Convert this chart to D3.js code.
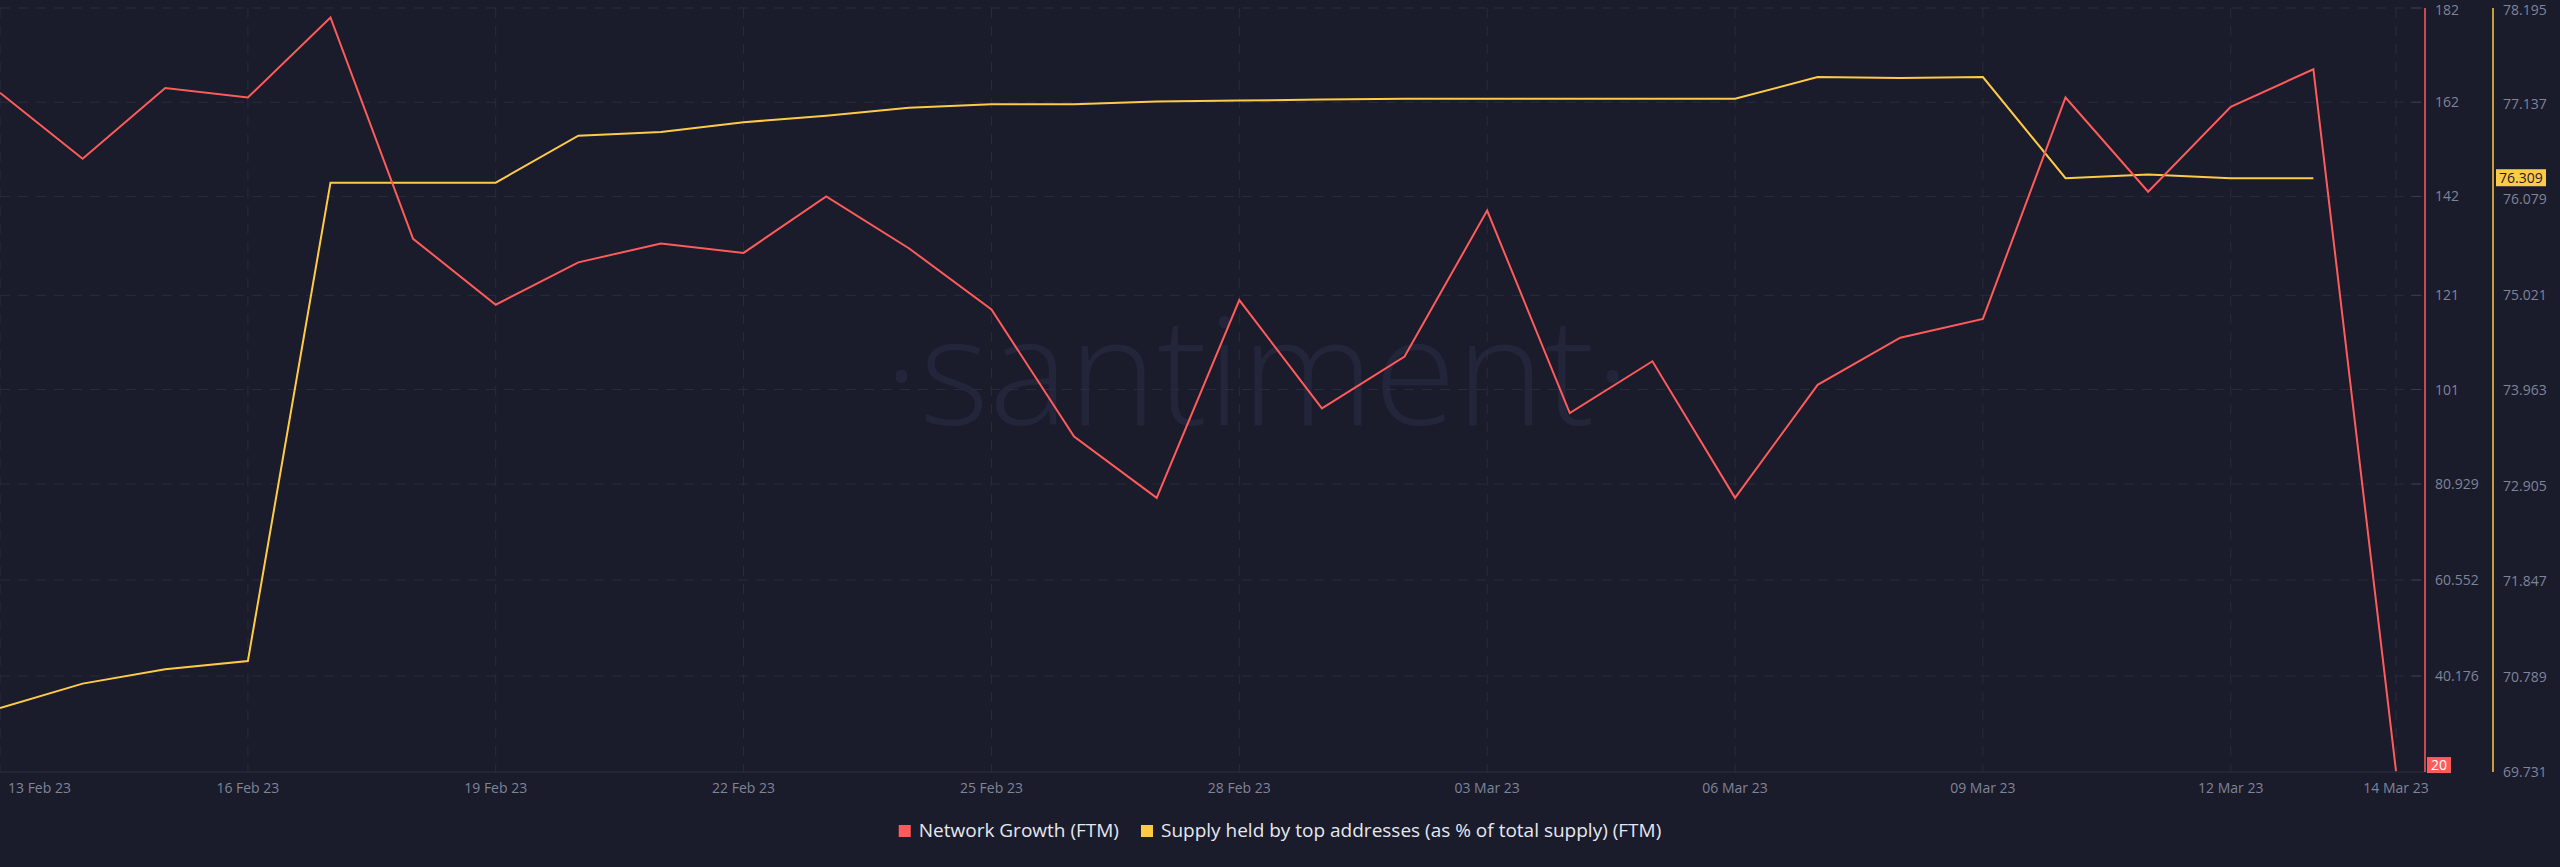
<!DOCTYPE html>
<html><head><meta charset="utf-8">
<script src="https://cdn.jsdelivr.net/npm/d3@7"></script>
<style>body{margin:0;background:#1a1b2b;overflow:hidden}svg{display:block}text{font-family:"Open Sans",Roboto,sans-serif}</style>
</head><body><svg id="c" width="2560" height="867"></svg>
<script>
const dates=["13 Feb 23","14 Feb 23","15 Feb 23","16 Feb 23","17 Feb 23","18 Feb 23","19 Feb 23","20 Feb 23","21 Feb 23","22 Feb 23","23 Feb 23","24 Feb 23","25 Feb 23","26 Feb 23","27 Feb 23","28 Feb 23","01 Mar 23","02 Mar 23","03 Mar 23","04 Mar 23","05 Mar 23","06 Mar 23","07 Mar 23","08 Mar 23","09 Mar 23","10 Mar 23","11 Mar 23","12 Mar 23","13 Mar 23","14 Mar 23"];
const networkGrowth=[164,150,165,163,180,133,119,128,132,130,142,131,118,91,78,120,97,108,139,96,107,78,102,112,116,163,143,161,169,20];
const supplyTop=[70.44,70.71,70.87,70.96,76.26,76.26,76.26,76.78,76.82,76.93,77.00,77.09,77.13,77.13,77.16,77.17,77.18,77.19,77.19,77.19,77.19,77.19,77.43,77.42,77.43,76.31,76.35,76.31,76.309,null];
const leftTicks=[182,162,142,121,101,80.929,60.552,40.176];
const rightTicks=[78.195,77.137,76.079,75.021,73.963,72.905,71.847,70.789,69.731];
const xTickIdx=[0,3,6,9,12,15,18,21,24,27,29];

const svg=d3.select("#c");
const pTop=8,bottom=772,right=2425,ax2=2493;
const x=d3.scaleLinear().domain([0,29]).range([0,2396]);
const y1=d3.scaleLinear().domain([19.8,182]).range([bottom,pTop]);
const y2=d3.scaleLinear().domain([69.731,78.195]).range([bottom,pTop]);
const grid="#2a2c3e";
svg.append("text").attr("x",1257).attr("y",425).attr("text-anchor","middle").attr("font-size",150).attr("fill","#23263b").attr("font-weight",300).text("·santiment·");
svg.append("g").selectAll("line").data(leftTicks).join("line").attr("x1",0).attr("x2",right).attr("y1",d=>y1(d)).attr("y2",d=>y1(d)).attr("stroke",grid).attr("stroke-dasharray","10,8");
svg.append("g").selectAll("line").data(xTickIdx).join("line").attr("x1",d=>x(d)).attr("x2",d=>x(d)).attr("y1",pTop).attr("y2",bottom).attr("stroke",grid).attr("stroke-dasharray","10,8");
svg.append("line").attr("x1",0).attr("x2",right).attr("y1",bottom).attr("y2",bottom).attr("stroke","#2f3145");
svg.append("g").selectAll("text").data(xTickIdx).join("text").attr("x",d=>d===0?8:x(d)).attr("y",bottom+21).attr("text-anchor",d=>d===0?"start":"middle").attr("font-size",14).attr("fill","#7f849a").text(d=>dates[d]);
svg.append("line").attr("x1",right).attr("x2",right).attr("y1",pTop).attr("y2",bottom).attr("stroke","#ff5b5b").attr("stroke-width",1.5);
svg.append("line").attr("x1",ax2).attr("x2",ax2).attr("y1",pTop).attr("y2",bottom).attr("stroke","#ffcb47").attr("stroke-width",1.5);
svg.append("g").selectAll("line").data(leftTicks).join("line").attr("x1",right-14).attr("x2",right-4).attr("y1",d=>y1(d)).attr("y2",d=>y1(d)).attr("stroke","#3a3d52");
svg.append("g").selectAll("text").data(leftTicks).join("text").attr("x",right+10).attr("y",d=>Math.max(y1(d)+5,15)).attr("font-size",14).attr("fill","#7f849a").text(d=>d);
svg.append("g").selectAll("text").data(rightTicks).join("text").attr("x",ax2+10).attr("y",d=>Math.max(y2(d)+5,15)).attr("font-size",14).attr("fill","#7f849a").text(d=>d.toFixed(3));
const l1=d3.line().x((d,i)=>x(i)).y(d=>y1(d));
const l2=d3.line().defined(d=>d!=null).x((d,i)=>x(i)).y(d=>y2(d));
svg.append("path").datum(supplyTop).attr("d",l2).attr("fill","none").attr("stroke","#ffcb47").attr("stroke-width",2);
svg.append("path").datum(networkGrowth).attr("d",l1).attr("fill","none").attr("stroke","#ff5b5b").attr("stroke-width",2);
const lv1=networkGrowth[29], lv2=supplyTop[28];
svg.append("rect").attr("x",right+2).attr("y",y1(lv1)-14).attr("width",24).attr("height",16).attr("fill","#ff5b5b");
svg.append("text").attr("x",right+14).attr("y",y1(lv1)-1).attr("text-anchor","middle").attr("font-size",14).attr("fill","#fff").text(lv1);
svg.append("rect").attr("x",ax2+3).attr("y",y2(lv2)-9).attr("width",50).attr("height",17).attr("fill","#ffcb47");
svg.append("text").attr("x",ax2+6).attr("y",y2(lv2)+5).attr("font-size",14).attr("fill","#1a1b2b").text(lv2.toFixed(3));
const items=[["Network Growth (FTM)","#ff5b5b"],["Supply held by top addresses (as % of total supply) (FTM)","#ffcb47"]];
let lx=900;
const g1=svg.append("g");
items.forEach(([t,c])=>{
  g1.append("rect").attr("x",lx).attr("y",825).attr("width",12).attr("height",12).attr("fill",c);
  const tx=g1.append("text").attr("x",lx+20).attr("y",837).attr("font-size",19).attr("fill","#e6e8f0").text(t);
  lx+=20+tx.node().getComputedTextLength()+22;
});
const w=lx-22-900;
g1.attr("transform",`translate(${1280-w/2-900},0)`);
</script></body></html>
